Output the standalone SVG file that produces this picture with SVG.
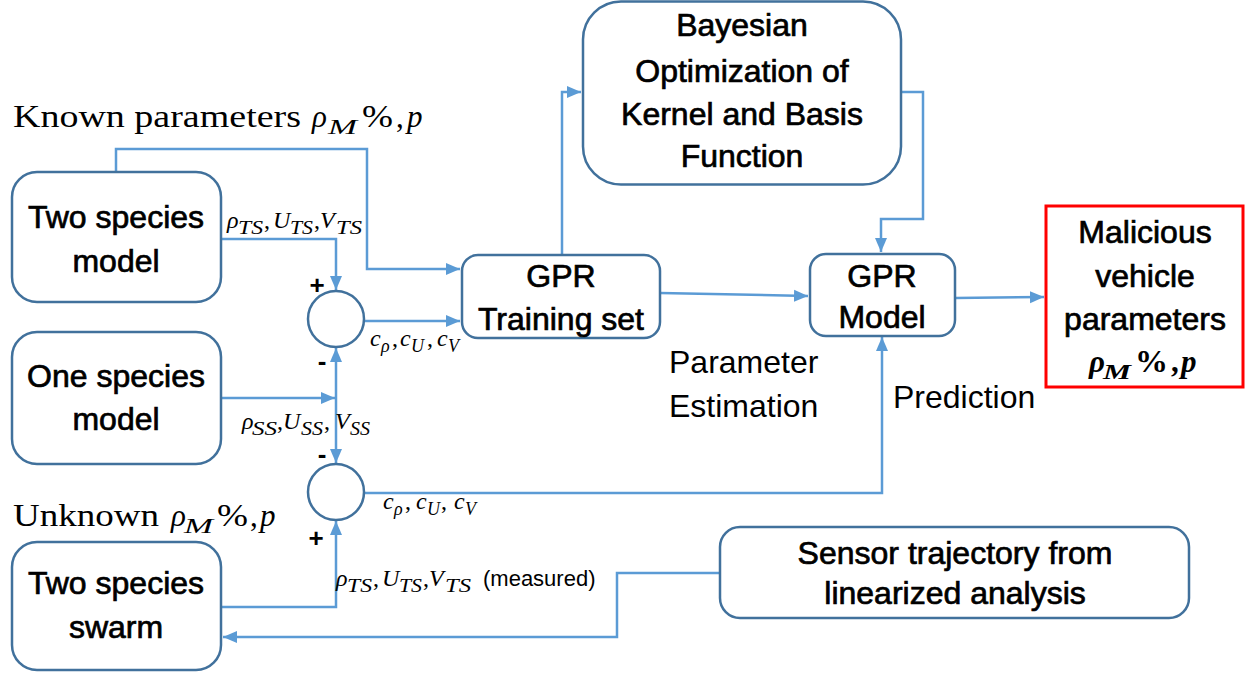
<svg xmlns="http://www.w3.org/2000/svg" width="1248" height="677" viewBox="0 0 1248 677">
<style>
.box{fill:#fff;stroke:#41719C;stroke-width:2.5}
.red{fill:#fff;stroke:#FF0000;stroke-width:3}
.conn{fill:none;stroke:#5B9BD5;stroke-width:2.5}
.lbl{font-family:"Liberation Sans",Arial,sans-serif;font-size:32px;text-anchor:middle;fill:#000;stroke:#000;stroke-width:0.7}
.txt{font-family:"Liberation Sans",Arial,sans-serif;font-size:32px;fill:#000}
.sm{font-family:"Liberation Sans",Arial,sans-serif;font-size:22px;fill:#000}
.pm{font-family:"Liberation Sans",Arial,sans-serif;font-size:26px;font-weight:bold;text-anchor:middle;fill:#000}
.big{font-family:"Liberation Serif","Times New Roman",serif;font-size:31px;fill:#000}
.m{font-family:"Liberation Serif","Times New Roman",serif;font-style:italic;font-size:24px;fill:#000}
.s{font-size:18px}
.up{font-style:normal}
.i{font-style:italic}
</style>
<defs>
<marker id="arr" markerUnits="userSpaceOnUse" markerWidth="16" markerHeight="14" refX="14" refY="7" orient="auto">
<path d="M0,1 L14,7 L0,13 z" fill="#5B9BD5"/>
</marker>
</defs>

<g id="connectors">
<path class="conn" d="M116,172 V149 H367 V269 H460" marker-end="url(#arr)"/>
<path class="conn" d="M221,239 H336 V290" marker-end="url(#arr)"/>
<path class="conn" d="M364,321 H460" marker-end="url(#arr)"/>
<path class="conn" d="M221,398 H335" marker-end="url(#arr)"/>
<path class="conn" d="M336,398 V348" marker-end="url(#arr)"/>
<path class="conn" d="M336,398 V463" marker-end="url(#arr)"/>
<path class="conn" d="M221,607 H336 V521" marker-end="url(#arr)"/>
<path class="conn" d="M364,493 H882 V337" marker-end="url(#arr)"/>
<path class="conn" d="M562,255 V92 H581" marker-end="url(#arr)"/>
<path class="conn" d="M901,92 H923 V219 H881 V252" marker-end="url(#arr)"/>
<path class="conn" d="M660,293 L808,296" marker-end="url(#arr)"/>
<path class="conn" d="M955,298 L1044,297" marker-end="url(#arr)"/>
<path class="conn" d="M720,573 H617 V637 H223" marker-end="url(#arr)"/>
</g>

<g id="known-label">
<text class="big" y="127"><tspan x="13" textLength="288" lengthAdjust="spacingAndGlyphs">Known parameters</tspan><tspan class="i" x="312">ρ</tspan><tspan class="i" font-size="22" x="328" y="134" textLength="29" lengthAdjust="spacingAndGlyphs">M</tspan><tspan x="362" y="127" textLength="31" lengthAdjust="spacingAndGlyphs">%</tspan><tspan x="396">,</tspan><tspan class="i" x="407">p</tspan></text>
</g>
<g id="unknown-label">
<text class="big" y="526"><tspan x="13" textLength="146" lengthAdjust="spacingAndGlyphs">Unknown</tspan><tspan class="i" x="171">ρ</tspan><tspan class="i" font-size="22" x="184" y="533" textLength="29" lengthAdjust="spacingAndGlyphs">M</tspan><tspan x="217" y="526" textLength="31" lengthAdjust="spacingAndGlyphs">%</tspan><tspan x="250">,</tspan><tspan class="i" x="260">p</tspan></text>
</g>

<g id="two-species-model">
<rect class="box" x="12" y="172" width="209" height="130" rx="25"/>
<text class="lbl" x="116" y="228">Two species</text>
<text class="lbl" x="116" y="272">model</text>
</g>
<g id="one-species-model">
<rect class="box" x="12" y="332" width="209" height="132" rx="25"/>
<text class="lbl" x="116" y="387">One species</text>
<text class="lbl" x="116" y="430">model</text>
</g>
<g id="two-species-swarm">
<rect class="box" x="12" y="542" width="209" height="128" rx="25"/>
<text class="lbl" x="116" y="594">Two species</text>
<text class="lbl" x="116" y="638">swarm</text>
</g>

<g id="sum1">
<circle class="box" cx="336" cy="319" r="28"/>
<text class="pm" x="317" y="294">+</text>
<text class="pm" x="322" y="370">-</text>
</g>
<g id="sum2">
<circle class="box" cx="336" cy="492" r="28"/>
<text class="pm" x="322" y="463">-</text>
<text class="pm" x="316" y="547">+</text>
</g>

<g id="label-ts">
<text class="m" y="228"><tspan x="227">ρ</tspan><tspan class="s" x="238" y="234" textLength="25" lengthAdjust="spacingAndGlyphs">TS</tspan><tspan class="up" x="264" y="228">,</tspan><tspan x="273">U</tspan><tspan class="s" x="290" y="234" textLength="23" lengthAdjust="spacingAndGlyphs">TS</tspan><tspan class="up" x="314" y="228">,</tspan><tspan x="320">V</tspan><tspan class="s" x="336" y="234" textLength="26" lengthAdjust="spacingAndGlyphs">TS</tspan></text>
</g>
<g id="label-ss">
<text class="m" y="429"><tspan x="242">ρ</tspan><tspan class="s" x="252" y="435" textLength="25" lengthAdjust="spacingAndGlyphs">SS</tspan><tspan class="up" x="277" y="429">,</tspan><tspan x="283">U</tspan><tspan class="s" x="301" y="435" textLength="22" lengthAdjust="spacingAndGlyphs">SS</tspan><tspan class="up" x="324" y="429">,</tspan><tspan x="335">V</tspan><tspan class="s" x="350" y="435" textLength="20" lengthAdjust="spacingAndGlyphs">SS</tspan></text>
</g>
<g id="label-measured">
<text class="m" y="586"><tspan x="336">ρ</tspan><tspan class="s" x="347" y="592" textLength="25" lengthAdjust="spacingAndGlyphs">TS</tspan><tspan class="up" x="373" y="586">,</tspan><tspan x="382">U</tspan><tspan class="s" x="399" y="592" textLength="23" lengthAdjust="spacingAndGlyphs">TS</tspan><tspan class="up" x="423" y="586">,</tspan><tspan x="429">V</tspan><tspan class="s" x="445" y="592" textLength="26" lengthAdjust="spacingAndGlyphs">TS</tspan></text>
<text class="sm" x="483" y="586">(measured)</text>
</g>
<g id="label-c1">
<text class="m" y="346"><tspan x="370">c</tspan><tspan class="s" x="381" y="352">ρ</tspan><tspan class="up" x="392" y="346">,</tspan><tspan x="400">c</tspan><tspan class="s" x="411" y="352">U</tspan><tspan class="up" x="427" y="346">,</tspan><tspan x="437">c</tspan><tspan class="s" x="448" y="352">V</tspan></text>
</g>
<g id="label-c2">
<text class="m" y="509"><tspan x="383">c</tspan><tspan class="s" x="394" y="515">ρ</tspan><tspan class="up" x="405" y="509">,</tspan><tspan x="416">c</tspan><tspan class="s" x="427" y="515">U</tspan><tspan class="up" x="441" y="509">,</tspan><tspan x="454">c</tspan><tspan class="s" x="465" y="515">V</tspan></text>
</g>

<g id="gpr-training">
<rect class="box" x="462" y="255" width="198" height="83" rx="16"/>
<text class="lbl" x="561" y="287">GPR</text>
<text class="lbl" x="561" y="330">Training set</text>
</g>
<g id="bayesian">
<rect class="box" x="583" y="1.5" width="318" height="183" rx="38"/>
<text class="lbl" x="742" y="36">Bayesian</text>
<text class="lbl" x="742" y="82">Optimization of</text>
<text class="lbl" x="742" y="125">Kernel and Basis</text>
<text class="lbl" x="742" y="167">Function</text>
</g>
<g id="gpr-model">
<rect class="box" x="810" y="254" width="145" height="82" rx="16"/>
<text class="lbl" x="882" y="287">GPR</text>
<text class="lbl" x="882" y="328">Model</text>
</g>
<g id="malicious">
<rect class="red" x="1046" y="206" width="197" height="181"/>
<text class="lbl" x="1145" y="243">Malicious</text>
<text class="lbl" x="1145" y="287">vehicle</text>
<text class="lbl" x="1145" y="330">parameters</text>
<text class="big" font-weight="bold" y="372"><tspan class="i" x="1089">ρ</tspan><tspan class="i" font-size="22" x="1103" y="379" textLength="28" lengthAdjust="spacingAndGlyphs">M</tspan><tspan x="1135" y="372" textLength="33" lengthAdjust="spacingAndGlyphs">%</tspan><tspan x="1171">,</tspan><tspan class="i" x="1181">p</tspan></text>
</g>
<g id="sensor">
<rect class="box" x="720" y="527" width="469" height="91" rx="20"/>
<text class="lbl" x="955" y="564">Sensor trajectory from</text>
<text class="lbl" x="955" y="604">linearized analysis</text>
</g>

<g id="annotations">
<text class="txt" x="669" y="373">Parameter</text>
<text class="txt" x="669" y="417">Estimation</text>
<text class="txt" x="893" y="408">Prediction</text>
</g>
</svg>
